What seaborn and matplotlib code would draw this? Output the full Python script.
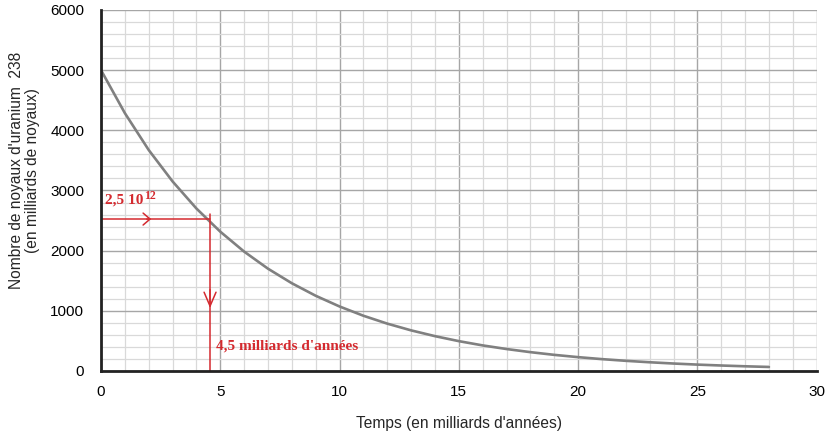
import matplotlib
matplotlib.use("Agg")
import matplotlib.pyplot as plt
import seaborn as sns
import pandas as pd
from matplotlib.ticker import MultipleLocator

# Data
temps = [0, 1, 2, 3, 4, 5, 6, 7, 8, 9, 10, 11, 12, 13, 14, 15, 16, 17, 18, 19,
         20, 21, 22, 23, 24, 25, 26, 27, 28]
noyaux = [5000, 4285, 3672, 3150, 2700, 2315, 1984, 1700, 1458, 1250, 1072, 918,
          787, 675, 579, 496, 425, 365, 313, 268, 230, 197, 169, 145, 124, 106,
          91, 78, 67]
x_ticks = [0, 5, 10, 15, 20, 25, 30]
y_ticks = [0, 1000, 2000, 3000, 4000, 5000, 6000]
t_half = 4.57
n_half = 2525
label_n = "2,5 10"
label_n_exp = "12"
label_t = "4,5 milliards d'années"

sns.set_style("white")
plt.rcParams['font.family'] = ['Liberation Sans', 'DejaVu Sans']

df = pd.DataFrame({"t": temps, "N": noyaux})

fig = plt.figure(figsize=(8.35, 4.34), dpi=100)
ax = fig.add_axes([0.121, 0.1452, 0.857, 0.8318])

ax.set_xlim(0, 30)
ax.set_ylim(0, 6000)
ax.xaxis.set_major_locator(MultipleLocator(5))
ax.xaxis.set_minor_locator(MultipleLocator(1))
ax.yaxis.set_major_locator(MultipleLocator(1000))
ax.yaxis.set_minor_locator(MultipleLocator(200))
ax.grid(which='minor', color='#d9d9d9', linewidth=0.9)
ax.grid(which='major', color='#a6a6a6', linewidth=1.0)
ax.set_axisbelow(True)

sns.lineplot(data=df, x="t", y="N", ax=ax, color='#808080', linewidth=1.9)

red = '#d42a2f'
serif = ['Liberation Serif', 'DejaVu Serif']
ax.plot([0, t_half], [n_half, n_half], color=red, lw=1.1)
ax.plot([t_half, t_half], [0, n_half + 90], color=red, lw=1.1)
# open chevron arrowheads
ax.annotate("", xy=(2.22, n_half), xytext=(1.8, n_half),
            arrowprops=dict(arrowstyle='->,head_length=0.5,head_width=0.43', color=red, lw=1.1))
ax.annotate("", xy=(t_half, 1000), xytext=(t_half, 1400),
            arrowprops=dict(arrowstyle='->,head_length=1.0,head_width=0.43', color=red, lw=1.1))

main_txt = ax.text(0.18, 2790, label_n, color=red, fontsize=11, fontweight='bold',
                   family=serif, va='baseline', ha='left')
ax.annotate(label_n_exp, xy=(1.0, 1.0), xycoords=main_txt,
            xytext=(0.5, 2.5), textcoords='offset points',
            color=red, fontsize=8.5, fontweight='bold', family=serif,
            va='top', ha='left')
ax.text(4.82, 415, label_t, color=red, fontsize=11, fontweight='bold',
        family=serif, va='center', ha='left')

ax.set_xticks(x_ticks)
ax.set_yticks(y_ticks)
ax.tick_params(axis='both', which='both', length=0, labelsize=11, colors='black')
ax.tick_params(axis='x', pad=10)
ax.tick_params(axis='y', pad=12)
ax.set_xlabel("Temps (en milliards d'années)", fontsize=11.2, labelpad=12)
ax.set_ylabel("")

for s in ['top', 'right']:
    ax.spines[s].set_visible(False)
ax.spines['left'].set_color('#222222')
ax.spines['left'].set_linewidth(2)
ax.spines['bottom'].set_color('#222222')
ax.spines['bottom'].set_linewidth(2)

fig.text(0.029, 0.608, "Nombre de noyaux d'uranium  238\n(en milliards de noyaux)",
         rotation=90, ha='center', va='center', fontsize=11.2, linespacing=1.1)

fig.savefig("out.png", dpi=100)
